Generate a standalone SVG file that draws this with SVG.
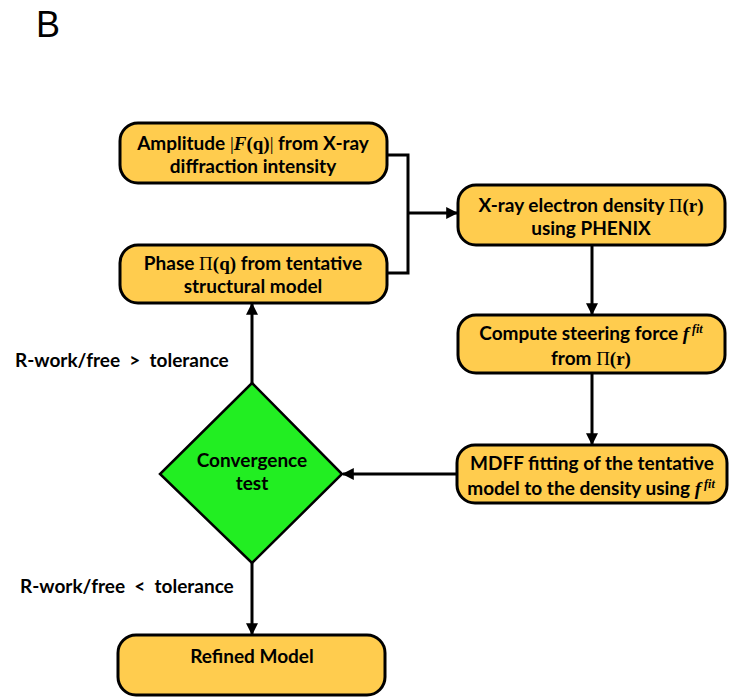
<svg xmlns="http://www.w3.org/2000/svg" width="743" height="698" viewBox="0 0 743 698">
<style>
.box{fill:#FFCC4E;stroke:#000;stroke-width:3}
.dia{fill:#22EE22;stroke:#000;stroke-width:2.5}
.t{font-family:Lato,"Liberation Sans",sans-serif;font-weight:bold;font-size:19px;fill:#000;text-anchor:middle}
.m{font-family:"Liberation Serif",serif;font-weight:bold}
.p{font-family:"Liberation Serif",serif;font-weight:normal}
.mi{font-family:"Liberation Serif",serif;font-weight:bold;font-style:italic}
.lbl{font-family:Lato,"Liberation Sans",sans-serif;font-weight:bold;font-size:19px;fill:#000;white-space:pre}
.c{stroke:#000;stroke-width:3;fill:none}
</style>
<defs>
<marker id="ah" viewBox="0 0 10 10" refX="9" refY="5" markerWidth="4" markerHeight="4" orient="auto" markerUnits="strokeWidth">
<path d="M0,0 L10,5 L0,10 z" fill="#000"/>
</marker>
</defs>
<text x="36" y="37" font-family="Liberation Sans,Arial,sans-serif" font-size="36" fill="#000">B</text>
<g id="connectors">
<path class="c" d="M387,155 H408 V273 H387"/>
<path class="c" d="M408,213 H457" marker-end="url(#ah)"/>
<path class="c" d="M592,245 V314" marker-end="url(#ah)"/>
<path class="c" d="M592,373 V444" marker-end="url(#ah)"/>
<path class="c" d="M457,474 H343" marker-end="url(#ah)"/>
<path class="c" d="M252,383 V304" marker-end="url(#ah)"/>
<path class="c" d="M252,563 V634" marker-end="url(#ah)"/>
<text class="lbl" x="15" y="367" xml:space="preserve">R-work/free  &gt;  tolerance</text>
<text class="lbl" x="20" y="593" xml:space="preserve">R-work/free  &lt;  tolerance</text>
</g>
<g id="amplitude">
<rect class="box" x="120" y="123" width="267" height="60" rx="18"/>
<text class="t" x="253" y="150">Amplitude <tspan class="p">|</tspan><tspan class="mi">F</tspan><tspan class="m">(q)</tspan><tspan class="p">|</tspan> from X-ray</text>
<text class="t" x="253" y="173">diffraction intensity</text>
</g>
<g id="phase">
<rect class="box" x="120" y="245" width="267" height="58" rx="18"/>
<text class="t" x="253" y="270">Phase <tspan class="p">Π</tspan><tspan class="m">(q)</tspan> from tentative</text>
<text class="t" x="253" y="293">structural model</text>
</g>
<g id="density">
<rect class="box" x="458" y="185" width="267" height="60" rx="18"/>
<text class="t" x="591" y="212">X-ray electron density <tspan class="p">Π</tspan><tspan class="m">(r)</tspan></text>
<text class="t" x="591" y="235">using PHENIX</text>
</g>
<g id="force">
<rect class="box" x="458" y="315" width="267" height="58" rx="18"/>
<text class="t" x="591" y="340">Compute steering force <tspan class="mi">f</tspan><tspan class="mi" font-size="12" dy="-7"> fit</tspan></text>
<text class="t" x="591" y="365">from <tspan class="p">Π</tspan><tspan class="m">(r)</tspan></text>
</g>
<g id="mdff">
<rect class="box" x="457" y="445" width="270" height="58" rx="18"/>
<text class="t" x="592" y="470">MDFF fitting of the tentative</text>
<text class="t" x="591" y="495">model to the density using <tspan class="mi">f</tspan><tspan class="mi" font-size="12" dy="-7"> fit</tspan></text>
</g>
<g id="convergence">
<path class="dia" d="M252,383 L342,474 L252,563 L160,474 Z"/>
<text class="t" x="252" y="467">Convergence</text>
<text class="t" x="252" y="490">test</text>
</g>
<g id="refined">
<rect class="box" x="118" y="635" width="267" height="60" rx="18"/>
<text class="t" x="252" y="663">Refined Model</text>
</g>
</svg>
